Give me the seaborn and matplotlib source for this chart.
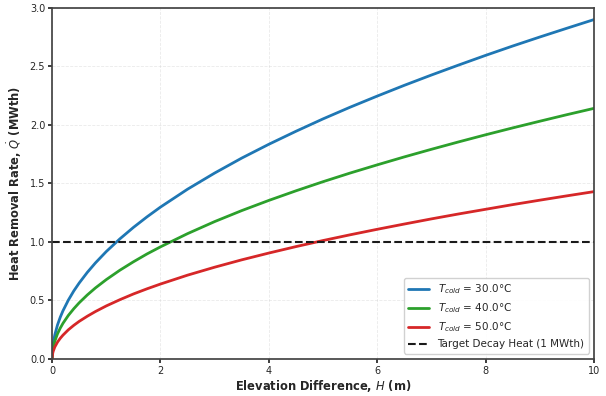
import numpy as np, pandas as pd
import matplotlib as mpl; mpl.use("Agg")
import matplotlib.pyplot as plt
import seaborn as sns

# valores (MWth) frente a H (m)
H = [0, 0.01, 0.02, 0.05, 0.1, 0.15, 0.2, 0.3, 0.4, 0.5, 0.65, 0.8, 1, 1.25, 1.5, 1.75, 2,
     2.5, 3, 3.5, 4, 4.5, 5, 5.5, 6, 6.5, 7, 7.5, 8, 8.5, 9, 9.5, 10]
Q_30 = [0, 0.092, 0.130, 0.205, 0.290, 0.355, 0.410, 0.502, 0.580, 0.648, 0.739, 0.820, 0.917, 1.025, 1.123, 1.213, 1.297,
        1.450, 1.588, 1.716, 1.834, 1.945, 2.051, 2.151, 2.246, 2.338, 2.426, 2.511, 2.594, 2.674, 2.751, 2.826, 2.900]
Q_40 = [0, 0.068, 0.096, 0.151, 0.214, 0.262, 0.303, 0.371, 0.428, 0.479, 0.546, 0.606, 0.677, 0.757, 0.829, 0.896, 0.957,
        1.070, 1.173, 1.267, 1.354, 1.436, 1.514, 1.588, 1.658, 1.726, 1.791, 1.854, 1.915, 1.974, 2.031, 2.087, 2.141]
Q_50 = [0, 0.045, 0.064, 0.101, 0.143, 0.175, 0.202, 0.248, 0.286, 0.320, 0.364, 0.404, 0.452, 0.505, 0.554, 0.598, 0.639,
        0.715, 0.783, 0.846, 0.904, 0.959, 1.011, 1.060, 1.107, 1.152, 1.196, 1.238, 1.278, 1.318, 1.356, 1.393, 1.429]
T_COLD = [30.0, 40.0, 50.0]
TARGET = 1.0
COLORS = ["#1f77b4", "#2ca02c", "#d62728"]

sns.set_theme(style="ticks")
mpl.rcParams["font.family"] = ["DejaVu Sans"]

df = pd.concat([pd.DataFrame({"H": H, "Q": q, "T": f"$T_{{cold}}$ = {t:.1f}°C"})
                for q, t in zip([Q_30, Q_40, Q_50], T_COLD)])

fig, ax = plt.subplots(figsize=(6.06, 3.96), dpi=100)
sns.lineplot(data=df, x="H", y="Q", hue="T", palette=COLORS, linewidth=2, ax=ax)
ax.axhline(TARGET, ls="--", c="k", lw=1.5, label="Target Decay Heat (1 MWth)")

ax.set_xlim(0, 10); ax.set_ylim(0, 3.0)
ax.set_xticks([0, 2, 4, 6, 8, 10]); ax.set_yticks(np.arange(0, 3.01, 0.5))
ax.tick_params(labelsize=7, length=3, pad=2)
ax.grid(True, ls="--", lw=0.6, alpha=0.4)
ax.set_xlabel("Elevation Difference, $H$ (m)", fontsize=8.3, fontweight="bold", labelpad=2)
ax.set_ylabel(r"Heat Removal Rate, $\dot{Q}$ (MWth)", fontsize=8.3, fontweight="bold", labelpad=4)
ax.legend(loc="lower right", fontsize=7.5, title=None, framealpha=0.9)
for s in ax.spines.values(): s.set_color("#444444")

fig.subplots_adjust(left=0.086, right=0.98, top=0.98, bottom=0.094)
fig.savefig("out.png", dpi=100)
